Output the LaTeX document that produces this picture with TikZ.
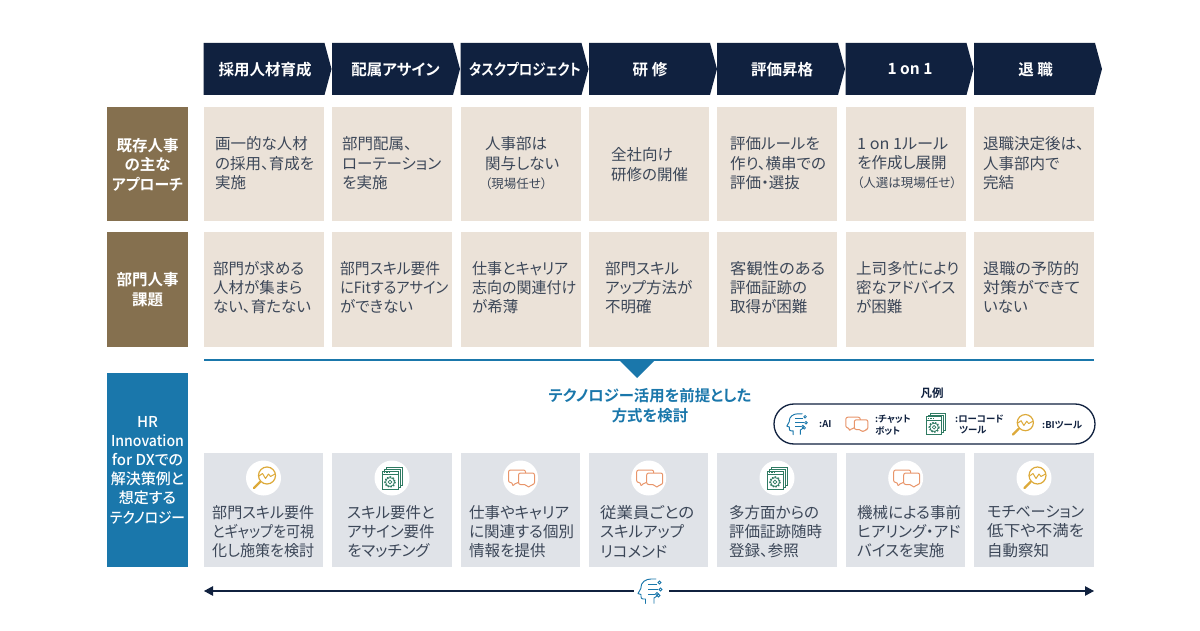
\documentclass[tikz,border=0pt]{standalone}
\usepackage{fontspec}
\setmainfont{Noto Sans CJK JP}[RawFeature=+palt,BoldFont={Noto Sans CJK JP Medium}]
\newfontfamily\heavy{Noto Sans CJK JP Bold}[RawFeature=+palt]
\usetikzlibrary{arrows.meta}
\definecolor{navy}{HTML}{10213F}
\definecolor{beige}{HTML}{EBE2D8}
\definecolor{brownbox}{HTML}{85704F}
\definecolor{bluebox}{HTML}{1A77AB}
\definecolor{greybox}{HTML}{E0E3E8}
\definecolor{bodyink}{HTML}{3C4758}
\definecolor{bigold}{HTML}{DDAA3A}
\definecolor{chatorange}{HTML}{E8956A}
\definecolor{codegreen}{HTML}{2F7A62}
\newcommand{\fs}[2]{\fontsize{#1}{#2}\selectfont}
\newcommand{\smallnote}[1]{{\fs{12.5}{19}#1}}
\newcommand{\fitw}[2]{\resizebox{#1pt}{\height}{#2}}
\tikzset{
  x=1pt,y=-1pt,
  headbox/.style={fill=navy,draw=none},
  headtext/.style={text=white,font=\fs{15.5}{19}\heavy,inner sep=0pt},
  cellbeige/.style={fill=beige,draw=none,minimum width=120pt,minimum height=114pt,inner sep=0pt},
  cellgrey/.style={fill=greybox,draw=none,minimum width=119.5pt,minimum height=114pt,inner sep=0pt},
  sidebox/.style={draw=none,minimum width=81pt,inner sep=0pt,text=white,align=center,font=\fs{15.5}{19.5}\heavy},
  bodytext/.style={anchor=west,align=left,inner sep=0pt,text=bodyink,font=\fs{15.5}{19.3}},
  legendtext/.style={anchor=west,align=left,inner sep=0pt,text=navy,font=\fs{9.4}{11.5}\heavy},
  iconbg/.style={circle,fill=white,draw=none,minimum size=35pt,inner sep=0pt},
  pics/biicon/.style={code={
    \draw[bigold,line width=1.2pt] (3.5,-2.5) circle[radius=8.5];
    \draw[bigold,line width=1pt,line join=round] (-4.5,-2) -- (-1,-4.5) -- (2,0.5) -- (5,-4) -- (7,-1.5) -- (11.5,-4);
    \draw[bigold,line width=2.4pt,line cap=round] (-3.5,4) -- (-9.5,10);
  }},
  pics/chaticon/.style={code={
    \draw[chatorange,line width=1pt,line join=round,rounded corners=2pt,fill=white] (-12,-8) -- (5,-8) -- (5,4.5) -- (-4.5,4.5) -- (-8,8.5) -- (-8,4.5) -- (-12,4.5) -- cycle;
    \draw[chatorange,line width=1pt,line join=round,rounded corners=2pt,fill=white] (-2,-5) -- (14,-5) -- (14,6.5) -- (10.5,6.5) -- (8,10) -- (6,6.5) -- (-2,6.5) -- cycle;
  }},
  pics/codeicon/.style={code={
    \draw[codegreen,line width=.8pt] (-6,-11) rectangle (10,7);
    \draw[codegreen,line width=.8pt,fill=white] (-8,-9) rectangle (8,9);
    \draw[codegreen,line width=.9pt,fill=white] (-10,-7) rectangle (6,11);
    \draw[codegreen,line width=.8pt] (-10,-3.5) -- (6,-3.5);
    \draw[codegreen,line width=.8pt,dash pattern=on 1.5pt off 1pt] (-8.5,-5.3) -- (-2,-5.3);
    \draw[codegreen,line width=1.3pt,dash pattern=on 1.6pt off 1.35pt] (-2,4) circle[radius=5.2];
    \draw[codegreen,line width=.7pt] (-2,4) circle[radius=4.4];
    \draw[codegreen,line width=.7pt] (-2,4) circle[radius=1.9];
  }},
  pics/aiicon/.style={code={
    \draw[bluebox,line width=.95pt,line join=round,line cap=round]
      (-4.5,12.5) -- (-4.5,8) -- (-7,8) .. controls (-8.5,8) and (-9,7) .. (-9,5.5) -- (-9,3.5) -- (-12,2.5) -- (-9.2,-2.5)
      .. controls (-9.5,-9) and (-4,-12) .. (1,-12) -- (6,-12);
    \draw[bluebox,line width=.85pt] (-2,-7) -- (7,-7) (-2,-1.5) -- (8,-1.5) (-2,3) -- (5,3);
    \draw[bluebox,line width=.9pt] (4,12.5) -- (4,7) -- (7,5);
    \foreach \p in {(9.5,-8.5),(10.5,-1.5),(7,3),(8.5,4.5)}{
      \draw[bluebox,line width=.8pt,fill=white] \p circle[radius=1.5];}
  }},
}
\newcommand{\chevron}[4]{%
  \draw[headbox,fill=navy] (#1,43) -- (#1+121,43) -- (#1+128,69) -- (#1+121,95) -- (#1,95) -- cycle;
  \node[headtext] (#2) at (#4,69.5) {#3};}
\begin{document}
\begin{tikzpicture}
\useasboundingbox (0,0) rectangle (1200,631);
\fill[white] (0,0) rectangle (1200,631);

% header chevrons
\chevron{203.5}{h1}{採用人材育成}{265}
\chevron{332}{h2}{配属アサイン}{395.5}
\chevron{460.5}{h3}{\fitw{112}{タスクプロジェクト}}{525}
\chevron{589}{h4}{研 修}{650}
\chevron{717}{h5}{評価昇格}{782}
\chevron{845.5}{h6}{1 on 1}{910}
\chevron{974}{h7}{退 職}{1035.5}

% side labels
\node[sidebox,fill=brownbox,minimum height=114pt] (s1) at (147.5,164.5) {既存人事\\の主な\\\fitw{71}{アプローチ}};
\node[sidebox,fill=brownbox,minimum height=115pt] (s2) at (147.5,289.5) {部門人事\\課題};
\node[sidebox,fill=bluebox,minimum height=194pt,font=\fs{15}{19.2}\bfseries] (s3) at (147.5,470) {HR\\\fitw{73}{Innovation}\\for DXでの\\解決策例と\\想定する\\\fitw{75}{テクノロジー}};

% cell backgrounds
\foreach \n/\x in {1/263.5,2/392,3/520.5,4/648.7,5/777,6/905.7,7/1034}{
  \node[cellbeige] (a\n) at (\x,164.5) {};
  \node[cellbeige,minimum height=115pt] (b\n) at (\x,289.5) {};
  \node[cellgrey] (c\n) at (\x,510.3) {};
  \node[iconbg] (i\n) at (\x,478) {};
}

% row 1
\node[bodytext] (ta1) at (215,163.2) {画一的な人材\\の採用、育成を\\実施};
\node[bodytext] (ta2) at (342,163.2) {部門配属、\\ローテーション\\を実施};
\node[bodytext] (ta3) at (485,163.2) {人事部は\\関与しない\\\smallnote{（現場任せ）}};
\node[bodytext] (ta4) at (611,164.5) {全社向け\\研修の開催};
\node[bodytext] (ta5) at (730,163.2) {評価ルールを\\作り、横串での\\評価・選抜};
\node[bodytext] (ta6) at (857,163.2) {\fitw{91}{1 on 1ルール}\\を作成し展開\\\smallnote{（人選は現場任せ）}};
\node[bodytext] (ta7) at (983,163.2) {退職決定後は、\\人事部内で\\完結};

% row 2
\node[bodytext] (tb1) at (213,287.5) {部門が求める\\人材が集まら\\ない、育たない};
\node[bodytext] (tb2) at (340,287.5) {\fitw{100}{部門スキル要件}\\\fitw{108}{にFitするアサイン}\\ができない};
\node[bodytext] (tb3) at (472,287.5) {\fitw{96}{仕事とキャリア}\\\fitw{104}{志向の関連付け}\\が希薄};
\node[bodytext] (tb4) at (605,287.5) {部門スキル\\アップ方法が\\不明確};
\node[bodytext] (tb5) at (730,287.5) {\fitw{95}{客観性のある}\\評価証跡の\\取得が困難};
\node[bodytext] (tb6) at (856,287.5) {上司多忙により\\密なアドバイス\\が困難};
\node[bodytext] (tb7) at (983,287.5) {\fitw{96}{退職の予防的}\\\fitw{97}{対策ができて}\\いない};

% separator and triangle
\coordinate (sepL) at (204,360);
\coordinate (sepR) at (1094,360);
\draw[bluebox,line width=1.6pt] (sepL) -- (sepR);
\fill[bluebox] (619,360) -- (655,360) -- (637,378) -- cycle;
\node[inner sep=0pt,align=center,text=bluebox,font=\fs{15.4}{20}\heavy] (tech) at (650,406) {テクノロジー活用を前提とした\\方式を検討};

% legend
\node[inner sep=0pt,text=navy,font=\fs{11.5}{12}\heavy] (lt) at (932,393) {凡例};
\node[draw=navy,line width=1.3pt,rounded corners=20pt,fill=white,minimum width=321pt,minimum height=40pt,inner sep=0pt] (lg) at (934.5,424) {};
\pic[scale=.85] at (797,424) {aiicon};
\node[legendtext] (l1) at (819,424.5) {:AI};
\pic[scale=.85] at (856,424) {chaticon};
\node[legendtext] (l2) at (875,425) {:チャット\\ ボット};
\pic[scale=.95] at (936,423.5) {codeicon};
\node[legendtext] (l3) at (955,424.5) {:ローコード\\ \hspace{4pt}ツール};
\pic[scale=.95] at (1022,425) {biicon};
\node[legendtext] (l4) at (1042,425) {:BIツール};

% row 3 icons
\pic at (i1) {biicon};
\pic at (i2) {codeicon};
\pic at (i3) {chaticon};
\pic at (i4) {chaticon};
\pic at (i5) {codeicon};
\pic at (i6) {chaticon};
\pic at (i7) {biicon};

% row 3 text
\node[bodytext] (tc1) at (212,531.5) {\fitw{102}{部門スキル要件}\\\fitw{102}{とギャップを可視}\\\fitw{102}{化し施策を検討}};
\node[bodytext] (tc2) at (347,531.5) {スキル要件と\\アサイン要件\\をマッチング};
\node[bodytext] (tc3) at (469,531.5) {仕事やキャリア\\に関連する個別\\情報を提供};
\node[bodytext] (tc4) at (600,531.5) {\fitw{94}{従業員ごとの}\\スキルアップ\\リコメンド};
\node[bodytext] (tc5) at (729,531.5) {多方面からの\\評価証跡随時\\登録、参照};
\node[bodytext] (tc6) at (857,531.5) {機械による事前\\ヒアリング・アド\\バイスを実施};
\node[bodytext] (tc7) at (987,531.5) {\fitw{97}{モチベーション}\\\fitw{97}{低下や不満を}\\自動察知};

% bottom arrow
\coordinate (arrL) at (204,591);
\coordinate (arrR) at (1094,591);
\coordinate (gapL) at (634,591);
\coordinate (gapR) at (669,591);
\draw[navy,line width=1.1pt,{Triangle[length=9pt,width=9.5pt]}-] (arrL) -- (gapL);
\draw[navy,line width=1.1pt,-{Triangle[length=9pt,width=9.5pt]}] (gapR) -- (arrR);
\pic at (650,591) {aiicon};
\end{tikzpicture}
\end{document}
